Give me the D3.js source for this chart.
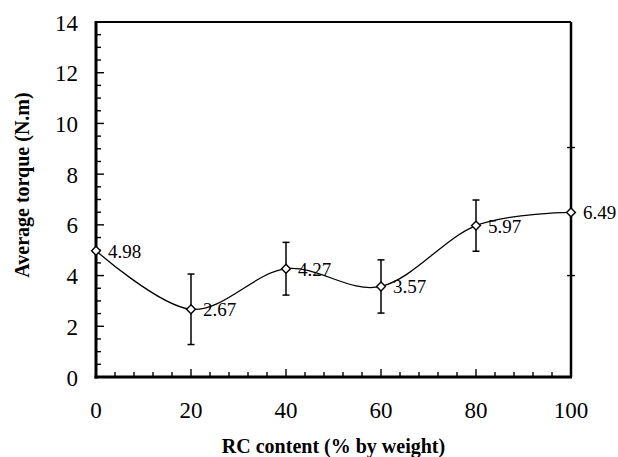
<!DOCTYPE html>
<html>
<head>
<meta charset="utf-8">
<script src="https://cdn.jsdelivr.net/npm/d3@7/dist/d3.min.js"></script>
<style>
  html, body { margin: 0; padding: 0; background: #fff; }
  svg { display: block; }
</style>
</head>
<body>
<svg id="chart" width="618" height="457" font-family="'Liberation Serif', 'Times New Roman', 'DejaVu Serif', serif"></svg>
<script>
// RC content (% by weight) and measured average torque (N.m)
const rcContent = [0, 20, 40, 60, 80, 100];
const avgTorque = [4.98, 2.67, 4.27, 3.57, 5.97, 6.49];
const torqueError = [0, 1.39, 1.04, 1.05, 1.01, 0];

const xTickValues = [0, 20, 40, 60, 80, 100];
const yTickValues = [0, 2, 4, 6, 8, 10, 12, 14];
const rightTickValues = [4, 9.05];

const xTitle = "RC content (% by weight)";
const yTitle = "Average torque (N.m)";

const serif = "'Liberation Serif', 'Times New Roman', 'DejaVu Serif', serif";

const svg = d3.select("#chart");
const plot = { left: 96, right: 571, top: 22, bottom: 377 };

const x = d3.scaleLinear().domain([0, 100]).range([plot.left, plot.right]);
const y = d3.scaleLinear().domain([0, 14]).range([plot.bottom, plot.top]);

// minor ticks
const xMinor = d3.range(0, 100.01, 4);
const yMinor = d3.range(0, 14.01, 0.5);

const ticks = svg.append("g").attr("stroke", "#000").attr("stroke-width", 1.4);
ticks.selectAll("line.xm").data(xMinor).join("line")
  .attr("x1", d => x(d)).attr("x2", d => x(d))
  .attr("y1", plot.bottom).attr("y2", d => plot.bottom - (xTickValues.includes(d) ? 8 : 5));
ticks.selectAll("line.ym").data(yMinor).join("line")
  .attr("y1", d => y(d)).attr("y2", d => y(d))
  .attr("x1", plot.left).attr("x2", d => plot.left + (yTickValues.includes(d) ? 8 : 5));
ticks.selectAll("line.rt").data(rightTickValues).join("line")
  .attr("y1", d => y(d)).attr("y2", d => y(d))
  .attr("x1", plot.right - 4).attr("x2", plot.right + 4);

// frame
svg.append("line").attr("x1", plot.left).attr("x2", plot.right).attr("y1", plot.top).attr("y2", plot.top)
  .attr("stroke", "#000").attr("stroke-width", 2);
svg.append("line").attr("x1", plot.right).attr("x2", plot.right).attr("y1", plot.top).attr("y2", plot.bottom)
  .attr("stroke", "#000").attr("stroke-width", 2.5);
svg.append("line").attr("x1", plot.left).attr("x2", plot.left).attr("y1", plot.top - 1).attr("y2", plot.bottom + 1.5)
  .attr("stroke", "#000").attr("stroke-width", 3);
svg.append("line").attr("x1", plot.left - 1.5).attr("x2", plot.right + 1).attr("y1", plot.bottom).attr("y2", plot.bottom)
  .attr("stroke", "#000").attr("stroke-width", 3);

// tick labels
svg.append("g").selectAll("text").data(xTickValues).join("text")
  .attr("x", d => x(d)).attr("y", plot.bottom + 41)
  .attr("text-anchor", "middle").attr("font-size", 23).attr("font-family", serif)
  .text(d => d);
svg.append("g").selectAll("text").data(yTickValues).join("text")
  .attr("x", plot.left - 18).attr("y", d => y(d) + 8.5)
  .attr("text-anchor", "end").attr("font-size", 23).attr("font-family", serif)
  .text(d => d);

// axis titles
svg.append("text")
  .attr("x", (plot.left + plot.right) / 2).attr("y", 453)
  .attr("text-anchor", "middle").attr("font-size", 20).attr("font-weight", "bold").attr("font-family", serif)
  .text(xTitle);
svg.append("text")
  .attr("transform", "translate(29,185) rotate(-90)")
  .attr("text-anchor", "middle").attr("font-size", 20).attr("font-weight", "bold").attr("font-family", serif)
  .text(yTitle);

const points = rcContent.map((d, i) => ({ x: d, y: avgTorque[i], e: torqueError[i] }));

// smoothed line through the means
const line = d3.line().x(d => x(d.x)).y(d => y(d.y)).curve(d3.curveCatmullRom.alpha(0));
svg.append("path").datum(points)
  .attr("d", line).attr("fill", "none").attr("stroke", "#000").attr("stroke-width", 1.3);

// error bars
const eb = svg.append("g").attr("stroke", "#000").attr("stroke-width", 1.5);
const withErr = points.filter(d => d.e > 0);
eb.selectAll("line.v").data(withErr).join("line")
  .attr("x1", d => x(d.x)).attr("x2", d => x(d.x))
  .attr("y1", d => y(d.y - d.e)).attr("y2", d => y(d.y + d.e));
eb.selectAll("line.t").data(withErr).join("line")
  .attr("x1", d => x(d.x) - 3.5).attr("x2", d => x(d.x) + 3.5)
  .attr("y1", d => y(d.y + d.e)).attr("y2", d => y(d.y + d.e));
eb.selectAll("line.b").data(withErr).join("line")
  .attr("x1", d => x(d.x) - 3.5).attr("x2", d => x(d.x) + 3.5)
  .attr("y1", d => y(d.y - d.e)).attr("y2", d => y(d.y - d.e));

// diamond markers
const diamond = d3.symbol().type(d3.symbolDiamond2).size(50);
svg.append("g").selectAll("path").data(points).join("path")
  .attr("transform", d => `translate(${x(d.x)},${y(d.y)})`)
  .attr("d", diamond).attr("fill", "#fff").attr("stroke", "#000").attr("stroke-width", 1.4);

// value labels
svg.append("g").selectAll("text").data(points).join("text")
  .attr("x", d => x(d.x) + 12).attr("y", d => y(d.y) + 7)
  .attr("font-size", 19).attr("font-family", serif)
  .text(d => d.y.toFixed(2));
</script>
</body>
</html>
